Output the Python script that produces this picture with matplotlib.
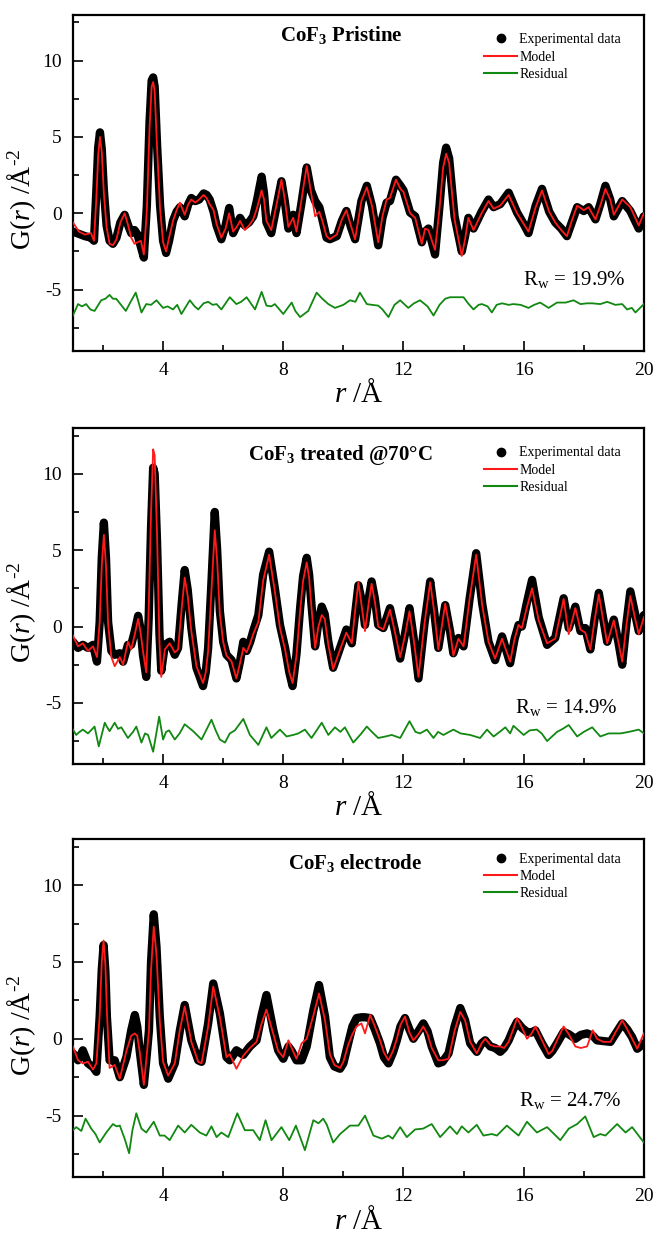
import matplotlib
matplotlib.use("Agg")
import matplotlib.pyplot as plt
from matplotlib.lines import Line2D
from matplotlib.ticker import MultipleLocator

plt.rcParams['font.family'] = 'serif'
plt.rcParams['font.serif'] = ['Liberation Serif', 'DejaVu Serif']
plt.rcParams['mathtext.fontset'] = 'custom'
plt.rcParams['mathtext.rm'] = 'Liberation Serif'
plt.rcParams['mathtext.it'] = 'Liberation Serif:italic'
plt.rcParams['mathtext.bf'] = 'Liberation Serif:bold'
plt.rcParams['axes.unicode_minus'] = False

# ---- panel 1 : CoF3 pristine ----
r_pristine = [1.0, 1.2, 1.4, 1.6, 1.7, 1.78, 1.84, 1.9, 1.96, 2.03, 2.12, 2.22, 2.33, 2.45, 2.58, 2.72,
              2.84, 2.94, 3.05, 3.15, 3.26, 3.36, 3.46, 3.55, 3.62, 3.67, 3.72, 3.8, 3.9, 4.0, 4.1, 4.2,
              4.33, 4.45, 4.56, 4.72, 4.84, 4.94, 5.07, 5.2, 5.35, 5.45, 5.55, 5.68, 5.78, 5.94, 6.08, 6.2,
              6.33, 6.45, 6.56, 6.72, 6.86, 7.0, 7.12, 7.28, 7.36, 7.44, 7.6, 7.78, 7.94, 8.05, 8.17, 8.33,
              8.44, 8.6, 8.78, 8.92, 9.06, 9.2, 9.3, 9.44, 9.55, 9.78, 9.95, 10.1, 10.25, 10.39, 10.6, 10.78,
              10.95, 11.16, 11.3, 11.44, 11.55, 11.75, 11.9, 12.0, 12.22, 12.39, 12.61, 12.72, 12.83, 13.05,
              13.2, 13.32, 13.42, 13.52, 13.7, 13.94, 14.05, 14.16, 14.33, 14.6, 14.83, 15.0, 15.22, 15.5,
              15.78, 16.0, 16.16, 16.4, 16.61, 16.85, 17.05, 17.25, 17.44, 17.6, 17.78, 18.0, 18.16, 18.39,
              18.55, 18.72, 18.88, 19.0, 19.28, 19.55, 19.83, 20.0]
exp_pristine = [-1.2, -1.35, -1.5, -1.6, -1.8, 1.5, 4.3, 5.3, 4.2, 1.5, -0.8, -1.8, -2.0, -1.6, -0.6, -0.1,
                -0.8, -1.3, -1.1, -1.4, -2.2, -2.9, 0.5, 6.0, 8.7, 8.9, 8.3, 4.5, 0.5, -1.8, -2.6, -1.8,
                -0.5, 0.1, 0.4, -0.2, 0.6, 1.0, 0.8, 0.9, 1.3, 1.2, 0.9, 0.1, -0.8, -1.7, -0.8, 0.35,
                -1.3, -0.8, -0.3, -0.8, -0.6, -0.2, 0.8, 2.4, 1.3, -0.6, -1.3, 0.5, 2.1, 0.8, -1.0, -0.1,
                -1.3, 0.6, 3.0, 1.5, 0.8, 0.4, -0.4, -1.6, -1.7, -1.5, -0.5, 0.15, -0.9, -1.7, 0.8, 1.8,
                0.5, -2.1, -0.3, 0.7, 0.8, 2.2, 1.8, 1.5, 0.05, -0.2, -1.9, -1.2, -1.0, -2.7,
                0.5, 3.3, 4.3, 3.6, -0.2, -2.5, -1.5, -0.3, -1.0, 0.1, 0.9, 0.4, 0.6, 1.35,
                0.05, -0.7, -1.3, 0.5, 1.6, 0.1, -0.6, -1.0, -1.5, -0.6, 0.4, 0.15, 0.4, -0.4,
                0.6, 1.8, 0.9, -0.2, 0.8, 0.15, -1.0, -0.2]
model_pristine = [-0.6, -1.2, -1.4, -1.3, -1.8, 1.0, 3.8, 5.0, 4.0, 1.3, -0.9, -2.0, -2.1, -1.7, -0.6, 0.0,
                  -0.8, -1.6, -2.0, -1.9, -1.8, -2.7, 0.2, 5.6, 8.3, 8.6, 8.0, 4.3, 0.3, -1.9, -2.5, -1.6,
                  -0.5, 0.2, 0.7, -0.1, 0.6, 0.9, 0.7, 0.9, 1.2, 1.0, 0.6, 0.2, -0.7, -1.6, -1.0, 0.0,
                  -1.2, -0.9, -0.5, -1.1, -0.8, -0.4, 0.3, 1.5, 0.9, -0.5, -1.1, 0.6, 2.2, 0.9, -0.9, -0.3,
                  -1.2, 0.8, 3.1, 1.4, -0.2, 0.1, -0.5, -1.5, -1.7, -1.4, -0.4, 0.2, -0.8, -1.7, 0.8, 1.7,
                  0.5, -1.9, -0.2, 0.9, 1.0, 2.2, 1.6, 1.4, 0.0, -0.3, -2.0, -1.0, -1.1, -2.4,
                  0.3, 3.0, 3.9, 3.3, -0.4, -2.8, -1.7, -0.3, -1.1, 0.0, 0.8, 0.3, 0.5, 1.2,
                  0.0, -0.7, -1.2, 0.4, 1.5, 0.1, -0.6, -1.1, -1.5, -0.5, 0.5, 0.2, 0.4, -0.4,
                  0.5, 1.6, 0.9, -0.1, 0.9, 0.4, -0.8, 0.0]
r_res_pristine = [1.0, 1.17, 1.3, 1.44, 1.58, 1.72, 1.94, 2.08, 2.22, 2.33, 2.44, 2.6, 2.76, 2.92, 3.09, 3.18,
                  3.28, 3.44, 3.6, 3.78, 4.0, 4.15, 4.33, 4.47, 4.61, 4.89, 5.05, 5.17, 5.35, 5.5, 5.65, 5.78,
                  5.94, 6.22, 6.44, 6.6, 6.78, 7.06, 7.28, 7.44, 7.6, 7.72, 8.0, 8.28, 8.4, 8.56, 8.83, 9.11,
                  9.3, 9.5, 9.72, 10.0, 10.22, 10.4, 10.55, 10.78, 10.95, 11.16, 11.3, 11.5, 11.7, 11.89, 12.16,
                  12.35, 12.55, 12.8, 13.0, 13.2, 13.39, 13.55, 14.0, 14.15, 14.33, 14.5, 14.61, 14.8, 14.94,
                  15.1, 15.28, 15.5, 15.66, 15.9, 16.16, 16.35, 16.55, 16.83, 17.11, 17.4, 17.66, 17.89, 18.1,
                  18.28, 18.55, 18.78, 19.05, 19.28, 19.44, 19.6, 19.72, 20.0]
res_pristine = [-6.7, -5.95, -6.1, -5.95, -6.3, -6.4, -5.7, -5.6, -5.35, -5.6, -5.6, -6.0, -6.4, -5.8, -5.2, -5.8,
                -6.5, -5.95, -6.0, -5.7, -6.2, -6.1, -6.3, -6.0, -6.6, -5.7, -6.1, -6.3, -5.9, -5.8, -6.0, -5.95,
                -6.3, -5.5, -5.95, -5.8, -5.5, -6.3, -5.15, -6.05, -6.1, -5.95, -6.6, -5.85, -6.4, -6.8, -6.4, -5.2,
                -5.6, -5.95, -6.2, -6.0, -5.7, -5.8, -5.2, -5.95, -6.0, -6.05, -6.3, -6.8, -6.0, -5.7, -6.2,
                -5.9, -5.7, -6.1, -6.7, -6.0, -5.6, -5.5, -5.5, -5.9, -6.3, -6.0, -5.95, -6.1, -6.5,
                -6.0, -5.9, -6.0, -5.95, -6.0, -6.2, -6.0, -5.85, -6.2, -5.85, -5.85, -5.7, -5.95, -5.9,
                -5.9, -5.95, -5.8, -6.0, -5.95, -6.3, -6.2, -6.5, -5.95]

# ---- panel 2 : CoF3 treated @70°C ----
r_treated = [1.0, 1.17, 1.33, 1.5, 1.67, 1.8, 1.89, 1.96, 2.03, 2.1, 2.17, 2.28, 2.39, 2.56, 2.67, 2.83,
             2.94, 3.06, 3.17, 3.26, 3.33, 3.44, 3.52, 3.6, 3.67, 3.72, 3.8, 3.88, 3.94, 4.06, 4.22, 4.39,
             4.5, 4.62, 4.72, 4.82, 4.94, 5.11, 5.33, 5.42, 5.5, 5.6, 5.72, 5.8, 5.89, 6.0, 6.11, 6.28,
             6.44, 6.56, 6.67, 6.78, 6.9, 7.0, 7.17, 7.33, 7.53, 7.72, 7.89, 8.06, 8.2, 8.31, 8.44, 8.56,
             8.66, 8.78, 8.86, 8.94, 9.06, 9.17, 9.28, 9.38, 9.5, 9.66, 9.89, 10.1, 10.28, 10.4, 10.5, 10.62,
             10.72, 10.84, 10.94, 11.05, 11.16, 11.33, 11.55, 11.72, 11.89, 12.05, 12.2, 12.35, 12.5, 12.7,
             12.89, 13.02, 13.16, 13.39, 13.55, 13.66, 13.83, 14.0, 14.2, 14.42, 14.62, 14.83, 15.05, 15.28,
             15.55, 15.7, 15.83, 15.94, 16.1, 16.28, 16.5, 16.78, 17.05, 17.33, 17.5, 17.72, 17.89, 18.05,
             18.22, 18.36, 18.5, 18.64, 18.78, 19.0, 19.15, 19.28, 19.42, 19.55, 19.7, 19.83, 20.0]
exp_treated = [-1.0, -1.4, -1.2, -1.4, -1.2, -2.3, 0.3, 4.5, 6.8, 4.5, 0.3, -1.6, -1.85, -1.75, -2.3, -1.2,
               -1.2, -0.3, 0.7, -0.3, -1.85, -3.3, 0.5, 6.5, 10.4, 10.0, 5.5, -0.5, -2.9, -1.2, -1.0, -1.85,
               -1.4, 1.5, 3.7, 2.4, -0.1, -2.7, -3.9, -3.0, -1.4, 2.5, 7.5, 5.0, 1.0, -1.0, -1.85, -2.2,
               -3.4, -2.3, -1.0, -1.6, -1.0, -0.3, 0.75, 3.4, 4.9, 2.5, 0.1, -1.4, -3.0, -3.9, -1.8, 1.2,
               3.3, 4.5, 3.4, 1.4, -1.3, 0.3, 1.3, 0.8, -1.0, -2.7, -1.4, -0.2, -1.1, 1.0, 2.7, 1.6,
               0.1, 1.8, 2.95, 1.8, 0.1, -0.1, 1.2, -0.3, -2.1, -0.5, 1.2, -0.9, -3.4, 0.2,
               2.95, 1.0, -1.4, 1.4, -0.3, -1.75, -0.75, -1.3, 1.8, 4.8, 1.5, -1.0, -2.2, -0.65,
               -2.4, -0.8, 0.1, 0.0, 1.5, 3.05, 0.6, -1.2, -0.75, 1.85, -0.1, 1.3, -0.3, -0.1,
               -1.5, 0.5, 2.2, 0.6, -1.0, 0.45, -1.0, -2.5, 0.2, 2.3, 0.9, -0.3, 0.75]
model_treated = [-0.6, -1.3, -1.1, -1.6, -1.3, -2.0, 0.3, 4.0, 6.0, 4.0, 0.2, -2.0, -2.6, -2.0, -2.5, -1.0,
                 -1.5, -0.5, 0.5, -0.5, -1.6, -3.0, 1.0, 7.5, 11.6, 11.2, 6.0, -1.0, -3.3, -1.5, -1.1, -1.7,
                 -1.5, 1.2, 3.2, 2.0, -0.3, -2.6, -3.7, -3.0, -1.6, 2.0, 6.3, 4.3, 0.8, -1.0, -1.9, -2.3,
                 -3.4, -2.4, -1.4, -1.7, -1.1, -0.5, 0.3, 3.0, 4.7, 2.3, -0.1, -1.5, -3.0, -3.7, -1.9, 1.0,
                 3.0, 4.2, 3.2, 1.2, -1.4, 0.0, 0.75, 0.5, -1.2, -2.8, -1.5, -0.4, -1.1, 1.2, 2.9, 1.2,
                 -0.3, 1.5, 2.8, 1.6, 0.0, -0.2, 1.1, -0.4, -2.0, -0.6, 1.0, -1.0, -3.3, 0.2,
                 2.9, 1.0, -1.5, 1.5, -0.3, -1.9, -0.8, -1.3, 1.8, 4.7, 1.4, -1.0, -2.1, -0.8,
                 -2.3, -0.8, 0.1, -0.1, 1.2, 2.5, 0.4, -1.1, -0.8, 1.8, -0.5, 1.2, -0.2, -0.4,
                 -1.5, 0.4, 2.1, 0.5, -1.1, 0.4, -1.0, -2.3, 0.1, 2.0, 0.6, -0.5, 0.6]
r_res_treated = [1.0, 1.11, 1.22, 1.33, 1.5, 1.6, 1.72, 1.86, 2.06, 2.14, 2.22, 2.39, 2.5, 2.61, 2.83, 3.0,
                 3.11, 3.28, 3.4, 3.5, 3.67, 3.87, 4.0, 4.1, 4.2, 4.39, 4.55, 4.72, 5.0, 5.28, 5.61, 5.75,
                 5.89, 6.06, 6.22, 6.39, 6.67, 6.89, 7.17, 7.44, 7.6, 7.89, 8.11, 8.33, 8.5, 8.72, 8.94, 9.28,
                 9.5, 9.72, 9.9, 10.05, 10.33, 10.6, 10.78, 10.95, 11.16, 11.4, 11.61, 11.89, 12.2, 12.4, 12.55,
                 12.78, 13.0, 13.15, 13.33, 13.66, 13.9, 14.22, 14.55, 14.78, 15.0, 15.2, 15.39, 15.55, 15.66,
                 16.0, 16.2, 16.44, 16.6, 16.78, 17.11, 17.3, 17.5, 17.78, 18.0, 18.28, 18.55, 18.83, 19.22,
                 19.5, 19.83, 20.0]
res_treated = [-6.75, -7.1, -6.9, -6.75, -7.0, -6.8, -6.55, -7.85, -6.3, -6.6, -6.85, -6.3, -6.7, -6.6, -7.3, -6.9,
               -6.55, -7.6, -7.0, -7.1, -8.2, -5.9, -7.4, -6.9, -6.8, -7.4, -7.0, -6.4, -6.85, -7.4, -6.1, -6.8,
               -7.4, -7.6, -7.0, -6.8, -6.05, -7.1, -7.75, -6.6, -7.3, -6.75, -7.2, -7.1, -7.0, -6.75, -7.3, -6.3,
               -7.1, -6.6, -6.9, -6.6, -7.6, -7.0, -6.55, -6.9, -7.3, -7.2, -7.1, -7.3, -6.2, -6.9, -7.0,
               -6.75, -7.3, -6.9, -7.1, -6.75, -7.0, -7.1, -7.3, -6.75, -7.2, -6.9, -6.6, -7.0, -6.5,
               -7.1, -6.8, -6.75, -7.0, -7.5, -6.9, -6.7, -6.45, -7.2, -6.9, -6.6, -7.2, -7.0, -7.0,
               -6.9, -6.75, -7.0]

# ---- panel 3 : CoF3 electrode ----
r_electrode = [1.0, 1.17, 1.33, 1.5, 1.67, 1.78, 1.89, 1.96, 2.02, 2.08, 2.13, 2.22, 2.39, 2.56, 2.78, 2.94,
               3.06, 3.14, 3.22, 3.36, 3.46, 3.53, 3.6, 3.69, 3.78, 3.89, 4.0, 4.17, 4.39, 4.56, 4.72, 4.94,
               5.17, 5.28, 5.5, 5.67, 5.89, 6.11, 6.22, 6.44, 6.67, 6.89, 7.11, 7.28, 7.44, 7.67, 7.83, 8.0,
               8.17, 8.28, 8.44, 8.61, 8.78, 9.0, 9.19, 9.39, 9.55, 9.7, 9.89, 10.0, 10.16, 10.3, 10.44, 10.6,
               10.72, 10.89, 11.05, 11.22, 11.35, 11.5, 11.65, 11.78, 11.9, 12.05, 12.2, 12.33, 12.5, 12.66,
               12.8, 12.94, 13.16, 13.3, 13.5, 13.7, 13.89, 14.05, 14.22, 14.44, 14.6, 14.72, 14.89, 15.05,
               15.22, 15.35, 15.5, 15.65, 15.78, 15.95, 16.11, 16.25, 16.39, 16.61, 16.83, 16.95, 17.11, 17.33,
               17.5, 17.72, 17.9, 18.11, 18.3, 18.44, 18.65, 18.89, 19.05, 19.28, 19.45, 19.61, 19.78, 20.0]
exp_electrode = [-0.95, -1.4, -0.75, -1.6, -1.85, -2.15, 1.45, 4.5, 6.1, 4.4, 1.45, -1.4, -1.4, -2.5, -1.2, 0.55,
                 1.55, 0.8, -0.75, -3.0, -1.0, 0.55, 5.0, 8.1, 6.0, 1.45, -1.6, -2.6, -1.6, 0.55, 2.2, -0.1,
                 -1.4, -1.5, 1.0, 3.6, 1.65, -1.2, -1.4, -0.75, -1.05, -0.5, -0.1, 1.55, 2.85, 0.55, -0.75, -1.3,
                 -0.5, -0.8, -1.4, -1.4, -0.5, 1.85, 3.5, 1.45, -1.2, -1.8, -1.95, -1.6, -0.3, 0.8, 1.35, 1.4,
                 1.4, 1.35, 0.6, -0.3, -1.2, -1.6, -0.9, -0.1, 0.8, 1.35, 0.6, 0.0, 0.5, 1.0,
                 0.5, -0.5, -1.6, -1.5, -0.95, 0.8, 2.0, 1.2, -0.3, -0.85, -0.3, -0.1, -0.5, -0.6,
                 -0.85, -0.6, -0.1, 0.6, 1.1, 0.7, 0.45, 0.4, 0.55, -0.3, -1.05, -0.8, -0.3, 0.45,
                 0.3, 0.0, 0.25, 0.35, 0.2, -0.1, -0.15, -0.2, 0.3, 1.0, 0.6, 0.1, -0.65, -0.3]
model_electrode = [-0.5, -1.4, -1.6, -1.5, -2.0, -1.6, 1.5, 5.0, 6.4, 4.8, 1.8, -1.9, -1.7, -2.6, -0.8, 0.2,
                   0.35, 0.2, -0.8, -3.0, -1.0, 0.5, 4.5, 7.3, 5.5, 1.2, -1.5, -2.4, -1.6, 0.6, 2.1, -0.2,
                   -1.5, -1.6, 0.8, 3.4, 1.4, -1.2, -1.0, -1.95, -1.1, -0.6, -0.2, 1.0, 1.9, 0.3, -0.8, -1.2,
                   -0.1, -0.6, -1.3, -0.3, 0.0, 1.5, 2.95, 1.2, -1.0, -1.7, -1.9, -1.5, -0.4, 0.3, 0.8, 1.0,
                   0.35, 1.55, 0.8, -0.1, -0.9, -1.4, -0.8, 0.0, 0.9, 1.45, 0.4, -0.1, 0.3, 0.8,
                   0.3, -0.6, -1.4, -1.4, -1.3, 0.5, 1.75, 1.2, -0.2, -0.95, -0.3, 0.0, -0.4, -0.5,
                   -0.5, -0.6, -0.2, 0.6, 1.35, 0.7, 0.0, 0.3, 0.8, -0.1, -1.0, -0.8, -0.1, 0.8,
                   0.3, -0.5, -0.6, -0.5, 0.55, 0.0, -0.2, -0.2, 0.4, 1.2, 0.6, 0.0, -0.65, 0.35]
r_res_electrode = [1.0, 1.11, 1.28, 1.42, 1.61, 1.75, 1.89, 2.11, 2.33, 2.45, 2.56, 2.72, 2.87, 2.98, 3.11, 3.28,
                   3.44, 3.69, 3.89, 4.05, 4.22, 4.5, 4.72, 4.94, 5.22, 5.44, 5.61, 5.78, 5.94, 6.17, 6.47, 6.72,
                   7.0, 7.22, 7.41, 7.61, 7.94, 8.2, 8.42, 8.72, 9.0, 9.17, 9.33, 9.45, 9.66, 9.89, 10.22, 10.5,
                   10.72, 11.0, 11.28, 11.5, 11.64, 11.89, 12.11, 12.39, 12.65, 12.94, 13.22, 13.55, 13.78, 13.94,
                   14.16, 14.44, 14.66, 14.94, 15.11, 15.44, 15.83, 16.11, 16.44, 16.78, 17.22, 17.5, 17.78, 18.05,
                   18.33, 18.55, 18.72, 19.11, 19.39, 19.61, 20.0]
res_electrode = [-5.95, -5.75, -6.0, -5.2, -5.85, -6.2, -6.75, -6.1, -5.55, -5.7, -5.65, -6.5, -7.45, -5.95, -4.85, -5.85,
                 -6.1, -5.4, -6.3, -6.3, -6.6, -5.65, -6.1, -5.6, -6.1, -6.3, -5.7, -6.4, -6.1, -6.4, -4.85, -5.95,
                 -5.95, -6.6, -5.3, -6.6, -5.75, -6.6, -5.65, -7.25, -5.3, -5.5, -5.2, -5.6, -6.75, -6.2, -5.65, -5.65,
                 -5.0, -6.3, -6.5, -6.3, -6.5, -5.75, -6.4, -5.9, -5.85, -5.55, -6.4, -5.7, -6.2, -5.7,
                 -6.1, -5.6, -6.3, -6.2, -6.3, -5.65, -6.3, -5.4, -6.1, -5.75, -6.6, -5.85, -5.55, -5.05,
                 -6.4, -6.2, -6.3, -5.55, -6.1, -5.75, -6.75]

titles = [r'CoF$_{\mathbf{3}}$ Pristine', r'CoF$_{\mathbf{3}}$ treated @70°C', r'CoF$_{\mathbf{3}}$ electrode']
rw_labels = [r'R$_{\rm w}$ = 19.9%', r'R$_{\rm w}$ = 14.9%', r'R$_{\rm w}$ = 24.7%']

panels = [
    (r_pristine, exp_pristine, model_pristine, r_res_pristine, res_pristine),
    (r_treated, exp_treated, model_treated, r_res_treated, res_treated),
    (r_electrode, exp_electrode, model_electrode, r_res_electrode, res_electrode),
]

# axes boxes in figure fractions
boxes = [[0.111, 0.717, 0.869, 0.271],
         [0.111, 0.3834, 0.869, 0.2712],
         [0.111, 0.050, 0.869, 0.2728]]
title_pos = [(0.3625, 0.94), (0.306, 0.92), (0.3765, 0.929)]
rw_pos = [(0.788, 0.211), (0.774, 0.167), (0.781, 0.226)]
legend_y = [0.945, 0.945, 0.96]

fig = plt.figure(figsize=(6.57, 12.39), dpi=100)

for i, (r, g_exp, g_model, r_res, g_res) in enumerate(panels):
    ax = fig.add_axes(boxes[i])
    ax.plot(r, g_exp, color="black", lw=6, solid_joinstyle="round", solid_capstyle="round", zorder=2)
    ax.plot(r, g_model, color="#ff1a1a", lw=1.3, zorder=3)
    ax.plot(r_res, g_res, color="#118811", lw=1.3, zorder=3)

    ax.set_xlim(1, 20)
    ax.set_ylim(-9, 13)
    ax.xaxis.set_major_locator(MultipleLocator(4))
    ax.xaxis.set_minor_locator(MultipleLocator(2))
    ax.yaxis.set_major_locator(MultipleLocator(5))
    ax.yaxis.set_minor_locator(MultipleLocator(2.5))
    ax.tick_params(which="both", direction="in", top=False, right=False, width=1.2, labelsize=14)
    ax.tick_params(which="major", length=7, pad=8)
    ax.tick_params(which="minor", length=4)
    for s in ax.spines.values():
        s.set_linewidth(1.6)

    ax.set_xlabel(r'$\mathit{r}$ /Å', fontsize=21, labelpad=1)
    ax.set_ylabel('G($\\mathit{r}$) /Å$^{\\rm \u20102}$', fontsize=20)
    ax.yaxis.set_label_coords(-0.062, 0.45)

    ax.text(title_pos[i][0], title_pos[i][1], titles[i], transform=ax.transAxes,
            fontsize=15, fontweight="bold", ha="left", va="center")
    ax.text(rw_pos[i][0], rw_pos[i][1], rw_labels[i], transform=ax.transAxes,
            fontsize=15, ha="left", va="center")

    handles = [Line2D([], [], color="black", marker="o", ls="none", ms=6),
               Line2D([], [], color="#ff1a1a", lw=1.5),
               Line2D([], [], color="#118811", lw=1.5)]
    ax.legend(handles, ["Experimental data", "Model", "Residual"], loc="upper left",
              bbox_to_anchor=(0.72, legend_y[i]), frameon=False, fontsize=10,
              borderpad=0, borderaxespad=0, handlelength=2.4, handletextpad=0.15,
              labelspacing=0.3)

fig.savefig("out.png", dpi=100)
